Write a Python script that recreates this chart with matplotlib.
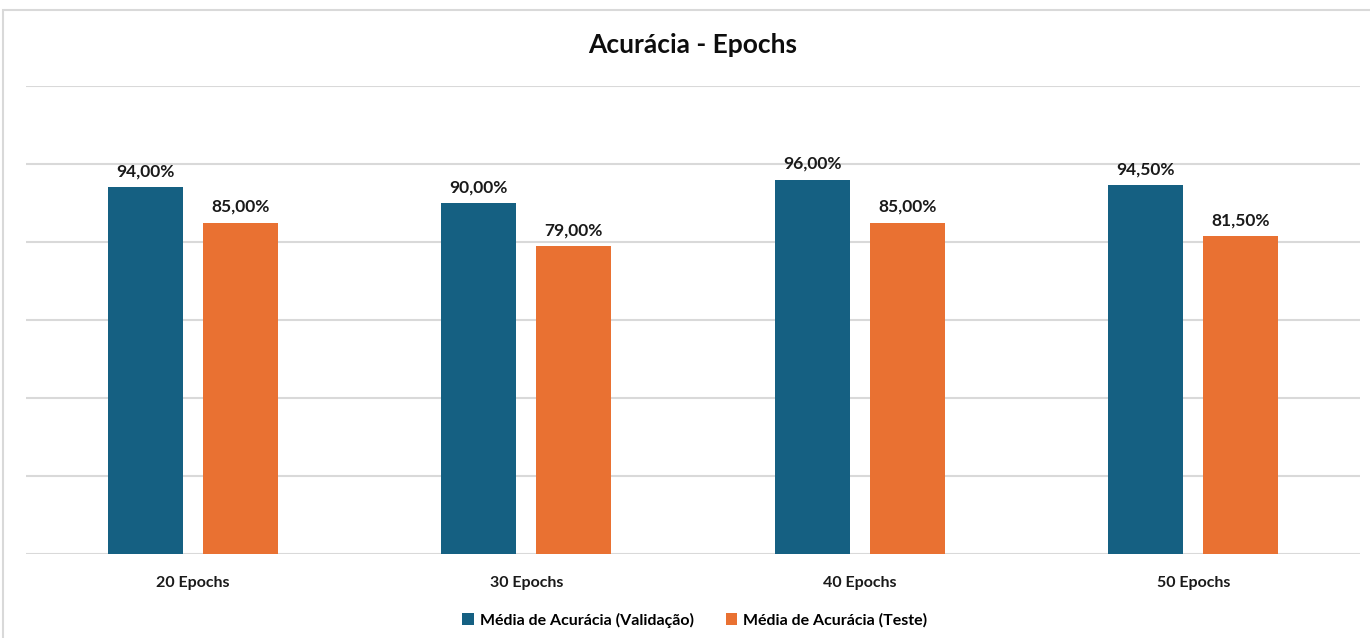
import numpy as np
import matplotlib.pyplot as plt
from matplotlib.patches import Rectangle

categories = ["20 Epochs", "30 Epochs", "40 Epochs", "50 Epochs"]
validacao = [0.94, 0.90, 0.96, 0.945]
teste = [0.85, 0.79, 0.85, 0.815]
series_names = ["Média de Acurácia (Validação)", "Média de Acurácia (Teste)"]

plt.rcParams['font.family'] = ['Lato', 'DejaVu Sans']

W, H = 1370, 638
fig = plt.figure(figsize=(W / 100, H / 100), dpi=100)

# chart frame
fig.patches.append(Rectangle((3 / W, -0.05), 1.2, (H - 10) / H + 0.05,
                             transform=fig.transFigure, fill=False,
                             edgecolor='#d9d9d9', linewidth=1.5))

ax = fig.add_axes([26 / W, (H - 554) / H, (1360 - 26) / W, (554 - 86) / H])
x = np.arange(len(categories))
w = 0.225
off = 0.1425
b1 = ax.bar(x - off, validacao, w, color='#156082', label=series_names[0], zorder=3)
b2 = ax.bar(x + off, teste, w, color='#E97132', label=series_names[1], zorder=3)

for bars, vals in ((b1, validacao), (b2, teste)):
    for rect, v in zip(bars, vals):
        ax.text(rect.get_x() + rect.get_width() / 2, v + 0.02,
                f"{v * 100:.2f}%".replace('.', ','), ha='center', va='bottom',
                fontsize=12.5, fontweight='bold', color='#1a1a1a')

ax.set_xlim(-0.5, 3.5)
ax.set_ylim(0, 1.2)
ax.set_yticks(np.arange(0, 1.21, 0.2))
ax.yaxis.grid(True, color='#d9d9d9', linewidth=1.5, zorder=0)
ax.tick_params(axis='y', left=False, labelleft=False)
ax.tick_params(axis='x', length=0, pad=16)
ax.set_xticks(x)
ax.set_xticklabels(categories, fontsize=11.5, fontweight='bold', color='#1a1a1a')
for s in ax.spines.values():
    s.set_visible(False)

fig.text(693 / W, (H - 45) / H, "Acurácia - Epochs", ha='center', va='center',
         fontsize=19, fontweight='bold', color='#0d0d0d')

fig.legend(loc='center', bbox_to_anchor=(695 / W, (H - 620) / H), ncol=2,
           frameon=False, handlelength=0.7, handleheight=0.7,
           handletextpad=0.4, columnspacing=2.0,
           prop={'weight': 'bold', 'size': 11.5})

plt.savefig('out.png', dpi=100)
